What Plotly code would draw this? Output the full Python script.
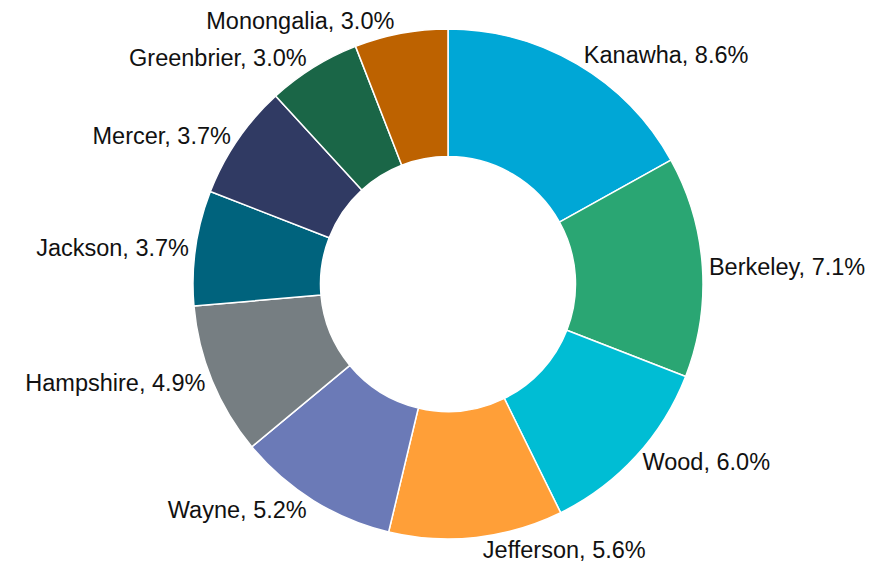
import plotly.graph_objects as go

counties = ["Kanawha", "Berkeley", "Wood", "Jefferson", "Wayne", "Hampshire",
            "Jackson", "Mercer", "Greenbrier", "Monongalia"]
shares = [8.6, 7.1, 6.0, 5.6, 5.2, 4.9, 3.7, 3.7, 3.0, 3.0]
colors = ["#00A7D6", "#2AA673", "#00BDD4", "#FF9F38", "#6B7AB7", "#767E82",
          "#00637D", "#303A63", "#1A6647", "#BD6200"]

fig = go.Figure(go.Pie(
    labels=counties,
    values=shares,
    customdata=shares,
    texttemplate="%{label}, %{customdata:.1f}%",
    textposition="outside",
    automargin=False,
    hole=0.5,
    sort=False,
    direction="clockwise",
    rotation=0,
    marker=dict(colors=colors, line=dict(color="white", width=1.5)),
    textfont=dict(family="Liberation Sans, Arial, sans-serif", size=23.5, color="#111111"),
    showlegend=False,
    hoverinfo="label+value",
))

fig.update_layout(
    width=888, height=569,
    margin=dict(l=0, r=8, t=21, b=38, autoexpand=False),
    paper_bgcolor="white",
    plot_bgcolor="white",
)

fig.write_html("out.html")
